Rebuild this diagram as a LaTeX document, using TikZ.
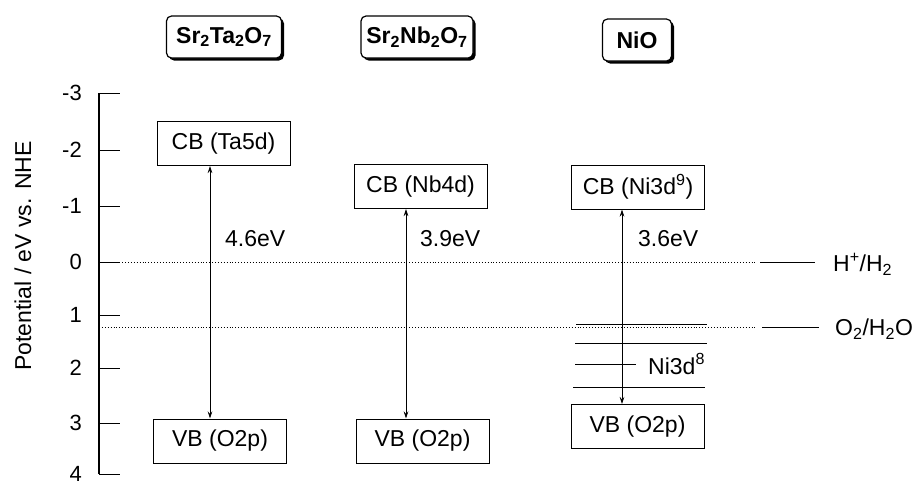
\documentclass[tikz,border=0pt]{standalone}
\usepackage{fontspec}
\setmainfont{Liberation Sans}
\usetikzlibrary{arrows.meta,shadows}
\begin{document}
\begin{tikzpicture}[x=1pt,y=-1pt,
  font=\fontsize{23}{27}\selectfont,
  band/.style={draw, line width=1pt, inner sep=0pt, minimum width=133pt, minimum height=44pt},
  hdr/.style={draw, rounded corners=5pt, fill=white, line width=1.2pt, inner sep=0pt,
    minimum height=42pt, font=\fontsize{23}{27}\selectfont\bfseries,
    drop shadow={shadow xshift=2.5pt, shadow yshift=-2.5pt, fill=black, opacity=1}},
  gap/.style={{Stealth[length=7pt,width=4.5pt]}-{Stealth[length=7pt,width=4.5pt]}, line width=0.7pt},
  ref/.style={dotted, line width=0.9pt},
  lvl/.style={line width=1pt},
  tick/.style={line width=1pt},
  ticklab/.style={anchor=east, inner sep=0pt, font=\fontsize{22}{26}\selectfont}]
\useasboundingbox (0,0) rectangle (913,482);

% axis
\coordinate (axT) at (99,93);
\coordinate (axB) at (99,474);
\draw[line width=1.1pt] (axT) -- (axB);
\foreach \v/\y in {-3/93,-2/150,-1/206,0/262,1/315,2/368,3/423,4/474}{
  \coordinate (t\v) at (99,\y);
  \coordinate (te\v) at (120,\y);
  \draw[tick] (t\v) -- (te\v);
  \node[ticklab] (l\v) at (82,\y) {\v};
}
\node[rotate=90, inner sep=0pt] (ylab) at (23,256) {Potential / eV vs. NHE};

% reference levels
\coordinate (h0) at (99,262);
\coordinate (h1) at (757,262);
\coordinate (h2) at (760,262);
\coordinate (h3) at (815,262);
\draw[ref] (h0) -- (h1);
\draw[lvl] (h2) -- (h3);
\node[anchor=west, inner sep=0pt] (hlab) at (833,264) {H\textsuperscript{+}/H\textsubscript{2}};

\coordinate (o0) at (99,327);
\coordinate (o1) at (757,327);
\coordinate (o2) at (762,327);
\coordinate (o3) at (819,327);
\draw[ref] (o0) -- (o1);
\draw[lvl] (o2) -- (o3);
\node[anchor=west, inner sep=0pt] (olab) at (835,329) {O\textsubscript{2}/H\textsubscript{2}O};

% headers
\node[hdr, minimum width=115pt] (hTa) at (224,37) {Sr\textsubscript{2}Ta\textsubscript{2}O\textsubscript{7}};
\node[hdr, minimum width=112pt] (hNb) at (417,37) {Sr\textsubscript{2}Nb\textsubscript{2}O\textsubscript{7}};
\node[hdr, minimum width=69pt] (hNi) at (637,40) {NiO};

% bands
\node[band] (cbTa) at (223.5,143.5) {CB (Ta5d)};
\node[band] (vbTa) at (220,441) {VB (O2p)};
\node[band] (cbNb) at (420.5,186.5) {CB (Nb4d)};
\node[band] (vbNb) at (422.5,441) {VB (O2p)};
\node[band] (cbNi) at (638,187) {CB (Ni3d\textsuperscript{9})};
\node[band] (vbNi) at (637.5,426.5) {VB (O2p)};

% Ni3d8 levels
\coordinate (n1a) at (576,324); \coordinate (n1b) at (707,324);
\coordinate (n2a) at (575,343); \coordinate (n2b) at (707,343);
\coordinate (n3a) at (575,364); \coordinate (n3b) at (636,364);
\coordinate (n4a) at (573,387); \coordinate (n4b) at (705,387);
\draw[lvl] (n1a) -- (n1b);
\draw[lvl] (n2a) -- (n2b);
\draw[lvl] (n3a) -- (n3b);
\draw[lvl] (n4a) -- (n4b);
\node[anchor=west, inner sep=0pt] (nlab) at (648,364) {Ni3d\textsuperscript{8}};

% gaps
\coordinate (xTa) at (210,0);
\coordinate (xNb) at (406,0);
\coordinate (xNi) at (622,0);
\draw[gap] (cbTa.south -| xTa) -- (vbTa.north -| xTa);
\draw[gap] (cbNb.south -| xNb) -- (vbNb.north -| xNb);
\draw[gap] (cbNi.south -| xNi) -- (vbNi.north -| xNi);
\node[anchor=west, inner sep=0pt] (gTa) at (225,239) {4.6eV};
\node[anchor=west, inner sep=0pt] (gNb) at (420,239) {3.9eV};
\node[anchor=west, inner sep=0pt] (gNi) at (638,239) {3.6eV};
\end{tikzpicture}
\end{document}
